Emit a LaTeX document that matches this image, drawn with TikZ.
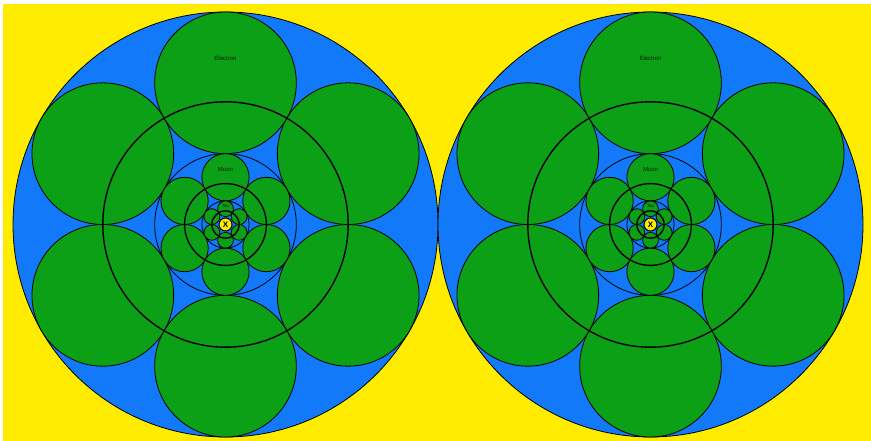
\documentclass[tikz,border=0pt]{standalone}
\usepackage{fontspec}
\setmainfont{Liberation Sans}
\definecolor{sunyellow}{RGB}{255,236,0}
\definecolor{skyblue}{RGB}{18,122,250}
\definecolor{leafgreen}{RGB}{12,160,22}
\tikzset{
  shell/.style={fill=skyblue, draw=black, line width=0.8pt},
  lepton/.style={fill=leafgreen, draw=black, line width=0.8pt},
  orbit/.style={draw=black, line width=1.4pt},
  tag/.style={inner sep=0pt, text=black!80!leafgreen},
}
% one shell: centre x, centre y, radius, name, label
\newcommand\leptonshell[5]{%
  \pgfmathsetmacro\rr{#3/3}%
  \pgfmathsetmacro\dd{2*#3/3}%
  \pgfmathsetmacro\oo{#3/sqrt(3)}%
  \filldraw[shell] (#1,#2) circle (#3pt);
  \foreach \a in {30,90,...,330}
    \filldraw[lepton] ({#1+\dd*cos(\a)},{#2+\dd*sin(\a)}) circle (\rr pt);
  \node[tag] (#4) at (#1,{#2-\dd-0.35*\rr}) {#5};
  \draw[orbit] (#1,#2) circle (\oo pt);
}
\begin{document}
\begin{tikzpicture}[x=1pt,y=-1pt]
  \useasboundingbox (0,0) rectangle (871,441);
  \fill[white] (0,0) rectangle (871,441);
  \fill[sunyellow] (3,4) rectangle (871,441);
  \foreach \cx/\side in {225.5/L,650.5/R} {
    % electron shell
    \leptonshell{\cx}{224.5}{212.5}{electron\side}{\fontsize{6}{6}\selectfont Electron}
    % muon shell
    \leptonshell{\cx}{224.5}{70.833}{muon\side}{\fontsize{6}{6}\selectfont Muon}
    % tau shell
    \leptonshell{\cx}{224.5}{23.611}{tau\side}{\fontsize{4.5}{4.5}\selectfont Tau}
    % centre
    \node[circle, fill=sunyellow, draw=black, line width=1pt, minimum size=13pt,
      inner sep=0pt, font=\bfseries\fontsize{8}{8}\selectfont] (x\side) at (\cx,224.5) {X};
  }
\end{tikzpicture}
\end{document}
